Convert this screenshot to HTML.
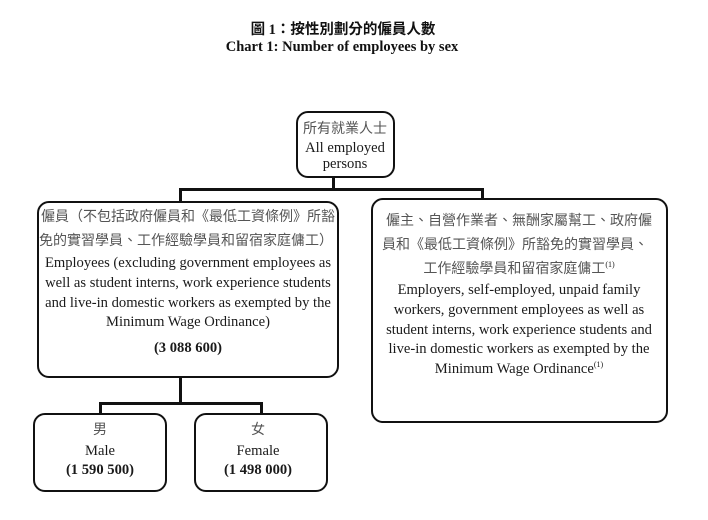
<!DOCTYPE html>
<html><head><meta charset="utf-8">
<style>
html,body{margin:0;padding:0;background:#fff;}
body{width:708px;height:520px;position:relative;overflow:hidden;font-family:"Liberation Serif","Noto Serif CJK SC",serif;color:#1a1a1a;}
.b{position:absolute;border:2.5px solid #111;border-radius:12px;box-sizing:border-box;}
.l{position:absolute;background:#111;}
.t{position:absolute;white-space:nowrap;text-align:center;transform:translate(-50%,-50%);font-size:14.6px;line-height:16px;}
.c{font-family:"Liberation Serif","Noto Sans CJK TC",sans-serif;color:#555;font-size:14px;}
.bd{font-weight:bold;}
sup{font-size:8px;vertical-align:6px;line-height:0;}
</style></head><body>
<div class="t bd" style="left:343px;top:30px;font-family:'Liberation Serif','Noto Sans CJK TC',sans-serif;font-size:14.5px;color:#111">圖 1：按性別劃分的僱員人數</div>
<div class="t bd" style="left:342px;top:47px;font-size:14.5px;color:#111">Chart 1: Number of employees by sex</div>

<div class="b" style="left:296px;top:111px;width:99px;height:67px;"></div>
<div class="t c" style="left:345px;top:130px;">所有就業人士</div>
<div class="t" style="left:345px;top:148px;">All employed</div>
<div class="t" style="left:345px;top:164px;">persons</div>

<div class="l" style="left:332px;top:177px;width:3px;height:13px;"></div>
<div class="l" style="left:179px;top:188px;width:305px;height:3px;"></div>
<div class="l" style="left:179px;top:188px;width:3px;height:15px;"></div>
<div class="l" style="left:481px;top:188px;width:3px;height:12px;"></div>

<div class="b" style="left:37px;top:201px;width:302px;height:177px;"></div>
<div class="t c" style="left:188px;top:218px;">僱員（不包括政府僱員和《最低工資條例》所豁</div>
<div class="t c" style="left:186px;top:242px;">免的實習學員、工作經驗學員和留宿家庭傭工）</div>
<div class="t" style="left:188px;top:263px;">Employees (excluding government employees as</div>
<div class="t" style="left:188px;top:283px;">well as student interns, work experience students</div>
<div class="t" style="left:188px;top:303px;">and live-in domestic workers as exempted by the</div>
<div class="t" style="left:188px;top:322px;">Minimum Wage Ordinance)</div>
<div class="t bd" style="left:188px;top:348px;">(3 088 600)</div>

<div class="b" style="left:371px;top:198px;width:297px;height:225px;"></div>
<div class="t c" style="left:519px;top:222px;">僱主、自營作業者、無酬家屬幫工、政府僱</div>
<div class="t c" style="left:515px;top:246px;">員和《最低工資條例》所豁免的實習學員、</div>
<div class="t c" style="left:519px;top:270px;">工作經驗學員和留宿家庭傭工<sup style="color:#222">(1)</sup></div>
<div class="t" style="left:519px;top:290px;">Employers, self-employed, unpaid family</div>
<div class="t" style="left:519px;top:310px;">workers, government employees as well as</div>
<div class="t" style="left:519px;top:330px;">student interns, work experience students and</div>
<div class="t" style="left:519px;top:349px;">live-in domestic workers as exempted by the</div>
<div class="t" style="left:519px;top:369px;">Minimum Wage Ordinance<sup>(1)</sup></div>

<div class="l" style="left:179px;top:377px;width:3px;height:27px;"></div>
<div class="l" style="left:99px;top:402px;width:164px;height:3px;"></div>
<div class="l" style="left:99px;top:402px;width:3px;height:13px;"></div>
<div class="l" style="left:260px;top:402px;width:3px;height:13px;"></div>

<div class="b" style="left:33px;top:413px;width:134px;height:79px;"></div>
<div class="t c" style="left:100px;top:431px;">男</div>
<div class="t" style="left:100px;top:451px;">Male</div>
<div class="t bd" style="left:100px;top:470px;">(1 590 500)</div>

<div class="b" style="left:194px;top:413px;width:134px;height:79px;"></div>
<div class="t c" style="left:258px;top:431px;">女</div>
<div class="t" style="left:258px;top:451px;">Female</div>
<div class="t bd" style="left:258px;top:470px;">(1 498 000)</div>
</body></html>
